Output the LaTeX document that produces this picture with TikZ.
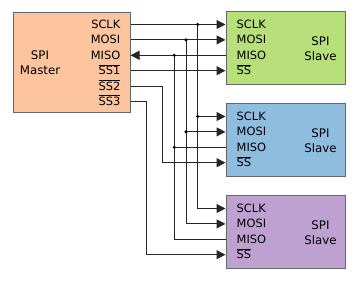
\documentclass[tikz,border=0pt]{standalone}
\usepackage{fontspec}
\setmainfont{DejaVu Sans}
\usetikzlibrary{arrows.meta, positioning}

\definecolor{masterc}{RGB}{253,197,159}
\definecolor{slavea}{RGB}{183,224,122}
\definecolor{slaveb}{RGB}{143,189,224}
\definecolor{slavec}{RGB}{190,160,209}

\newcommand{\ovl}[1]{$\overline{\mbox{#1}}$}

\begin{document}
\begin{tikzpicture}[x=1pt, y=1pt,
            mbox/.style   ={rectangle, draw=black!60, line width=1pt, fill=masterc,
                            minimum width=117pt, minimum height=100pt},
            sbox/.style   ={rectangle, draw=black!60, line width=1pt,
                            minimum width=119pt, minimum height=73pt},
            pinlbl/.style ={inner sep=0pt, text height=8pt, text depth=0pt,
                            font=\fontsize{11.4pt}{13pt}\selectfont},
            lbl/.style    ={inner sep=0pt, align=center,
                            font=\fontsize{11.8pt}{15pt}\selectfont},
            wire/.style   ={line width=1pt, black!85},
            arr/.style    ={wire, -{Triangle[length=9pt, width=9pt]}},
            junc/.style   ={fill=black}
        ]
            \useasboundingbox (0,0) rectangle (363,288);

            \node[mbox] (master) at (71.5,225) {};
            \node[sbox, fill=slavea] (s1) at (285.5,239.5) {};
            \node[sbox, fill=slaveb, below=18pt of s1] (s2) {};
            \node[sbox, fill=slavec, below=18pt of s2] (s3) {};

            \node[lbl] (mname) at ([xshift=-31.5pt]master.center) {SPI\\Master};
            \foreach \n/\t [count=\i from 0] in {msclk/SCLK, mmosi/MOSI, mmiso/MISO,
                    mss1/\ovl{SS1}, mss2/\ovl{SS2}, mss3/\ovl{SS3}}
                \node[pinlbl, anchor=east] (\n)
                    at ([xshift=-10pt, yshift={-(12+15.4*\i)*1pt}]master.north east) {\t};

            \foreach \s in {s1,s2,s3} {
                \foreach \n/\t [count=\i from 0] in {sclk/SCLK, mosi/MOSI, miso/MISO, ss/\ovl{SS}}
                    \node[pinlbl, anchor=west] (\s\n)
                        at ([xshift=11pt, yshift={-(13+15.4*\i)*1pt}]\s.north west) {\t};
                \node[lbl] (\s name) at ([xshift=-25pt]\s.east) {SPI\\Slave};
            }

            % bus columns
            \coordinate (bclk)  at (197.7,0);
            \coordinate (bmosi) at (186,0);
            \coordinate (bmiso) at (174.3,0);
            \coordinate (bss2)  at (162.7,0);
            \coordinate (bss3)  at (146,0);

            \draw[arr] (master.east |- msclk) -- (s1.west |- s1sclk);
            \draw[arr] (master.east |- mmosi) -- (s1.west |- s1mosi);
            \draw[arr] (s1.west |- s1miso) -- (master.east |- mmiso);
            \draw[arr] (master.east |- mss1) -- (s1.west |- s1ss);

            \draw[arr] (bclk |- msclk) |- (s3.west |- s3sclk);
            \draw[arr] (bclk |- s2sclk) -- (s2.west |- s2sclk);
            \draw[arr] (bmosi |- mmosi) |- (s3.west |- s3mosi);
            \draw[arr] (bmosi |- s2mosi) -- (s2.west |- s2mosi);
            \draw[wire] (bmiso |- mmiso) |- (s3.west |- s3miso);
            \draw[wire] (bmiso |- s2miso) -- (s2.west |- s2miso);

            \draw[arr] (master.east |- mss2) -| (bss2 |- s2ss) -- (s2.west |- s2ss);
            \draw[arr] (master.east |- mss3) -| (bss3 |- s3ss) -- (s3.west |- s3ss);

            \foreach \c in {bclk |- msclk, bmosi |- mmosi, bmiso |- mmiso,
                    bclk |- s2sclk, bmosi |- s2mosi, bmiso |- s2miso}
                \fill[junc] (\c) circle (1.7pt);
\end{tikzpicture}
\end{document}
